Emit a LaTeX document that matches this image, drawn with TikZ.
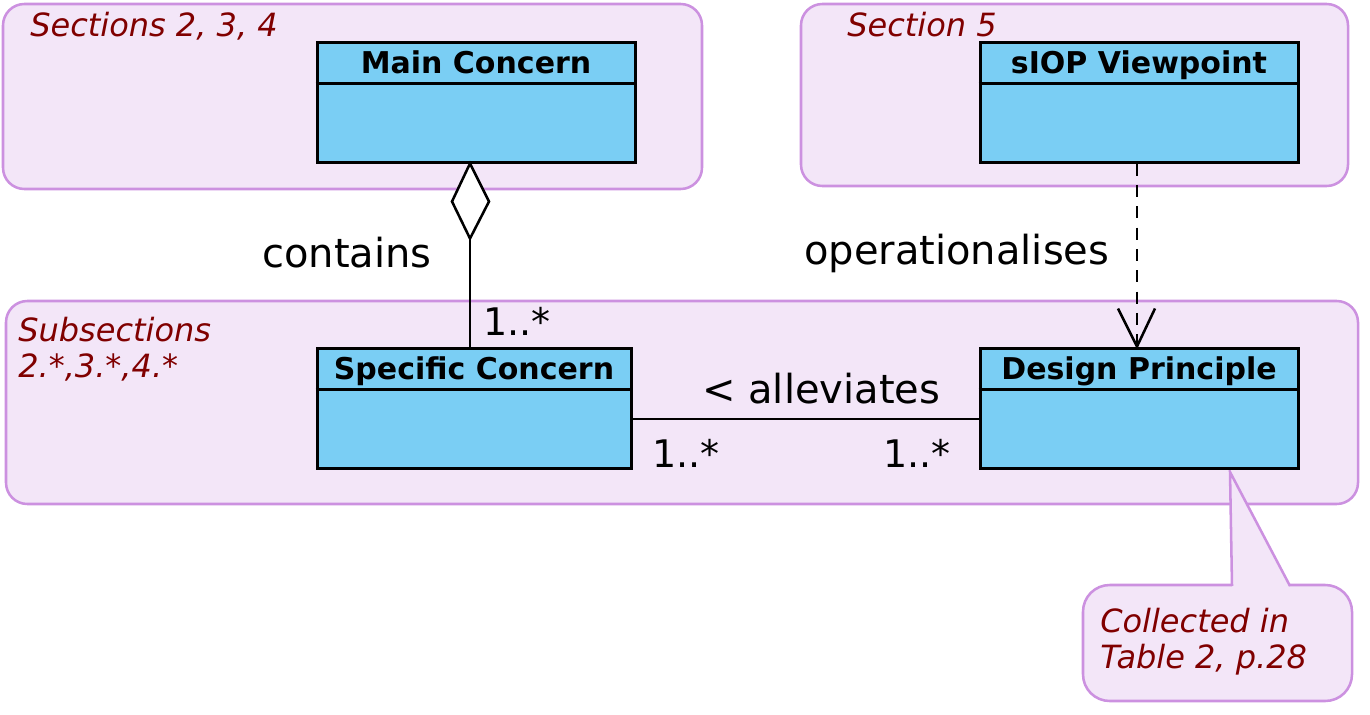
\documentclass[tikz,border=0pt]{standalone}
\usepackage{fontspec}
\setmainfont{DejaVu Sans}
\usetikzlibrary{calc}
\definecolor{grpfill}{RGB}{243,230,248}
\definecolor{grpdraw}{RGB}{204,145,224}
\definecolor{clsfill}{RGB}{122,206,244}
\definecolor{lbl}{RGB}{128,0,0}
\begin{document}
\begin{tikzpicture}[x=0.75pt,y=-0.75pt,
  grp/.style={draw=grpdraw, fill=grpfill, line width=1.9pt, rounded corners=16pt},
  cls/.style={draw=black, fill=clsfill, line width=2.25pt, inner sep=0pt, minimum height=90pt},
  clstitle/.style={font=\bfseries\fontsize{22.5pt}{27pt}\selectfont, anchor=base, inner sep=0pt},
  grplbl/.style={text=lbl, font=\itshape\fontsize{24pt}{27pt}\selectfont, anchor=base west, inner sep=0pt},
  assoc/.style={font=\fontsize{30pt}{36pt}\selectfont, anchor=base west, inner sep=0pt},
  mult/.style={font=\fontsize{28.5pt}{34pt}\selectfont, anchor=base west, inner sep=0pt},
  conn/.style={line width=1.9pt}]
\useasboundingbox (0,0) rectangle (1370,714);
% groups
\draw[grp] (3,4) rectangle (702,189);
\draw[grp] (801,4) rectangle (1348,186);
\draw[grp] (6,301) rectangle (1358,504);
\node[grplbl] (g1) at (30,36) {Sections 2, 3, 4};
\node[grplbl] (g2) at (847,36) {Section 5};
\node[grplbl] (g3a) at (18,341) {Subsections};
\node[grplbl] (g3b) at (18,377) {2.*,3.*,4.*};
% callout
\draw[grp, rounded corners=20pt] (1083,585) rectangle (1352,701);
\fill[grpfill] (1232,588) -- (1230,472) -- (1290,588) -- cycle;
\coordinate (tipA) at (1232,586);
\coordinate (tip) at (1230,472);
\coordinate (tipB) at (1290,586);
\draw[draw=grpdraw, line width=1.9pt, line join=miter] (tipA) -- (tip) -- (tipB);
\node[grplbl] (c1) at (1100,632) {Collected in};
\node[grplbl] (c2) at (1100,668) {Table 2, p.28};
% classes
\node[cls, minimum width=238.5pt] (mc) at (476,102) {};
\draw[line width=2.25pt] ($(mc.north west)+(0,43)$) -- ($(mc.north east)+(0,43)$);
\node[clstitle] (mct) at ($(mc.north)+(0,33)$) {Main Concern};
\node[cls, minimum width=238.5pt] (sv) at (1139,102) {};
\draw[line width=2.25pt] ($(sv.north west)+(0,43)$) -- ($(sv.north east)+(0,43)$);
\node[clstitle] (svt) at ($(sv.north)+(0,33)$) {sIOP Viewpoint};
\node[cls, minimum width=235.5pt] (sc) at (474,408) {};
\draw[line width=2.25pt] ($(sc.north west)+(0,43)$) -- ($(sc.north east)+(0,43)$);
\node[clstitle] (sct) at ($(sc.north)+(0,33)$) {Specific Concern};
\node[cls, minimum width=238.5pt] (dp) at (1139,408) {};
\draw[line width=2.25pt] ($(dp.north west)+(0,43)$) -- ($(dp.north east)+(0,43)$);
\node[clstitle] (dpt) at ($(dp.north)+(0,33)$) {Design Principle};
% contains (aggregation)
\coordinate (dtop) at ($(mc.south)+(-6,0)$);
\coordinate (dbot) at ($(dtop)+(0,75)$);
\draw[conn] (dbot) -- (dbot |- sc.north);
\draw[conn, fill=white, line join=miter] (dtop) -- ($(dtop)+(-18,38)$) -- (dbot) -- ($(dtop)+(19,38)$) -- cycle;
\node[assoc] (lc) at (262,267) {contains};
\node[mult] (m1) at (483,335) {1..*};
% operationalises (dependency)
\coordinate (dpin) at ($(dp.north)+(-2,0)$);
\draw[conn, dash pattern=on 9pt off 7pt] (sv.south -| dpin) -- (dpin);
\draw[conn, line join=miter] ($(dpin)+(-19,-38)$) -- (dpin) -- ($(dpin)+(18,-38)$);
\node[assoc] (lo) at (804,264) {operationalises};
% alleviates
\draw[conn] ($(sc.east)+(0,11)$) -- ($(dp.west)+(0,11)$);
\node[assoc] (la) at (702,403) {< alleviates};
\node[mult] (m2) at (652,467) {1..*};
\node[mult] (m3) at (883,467) {1..*};
\end{tikzpicture}
\end{document}
